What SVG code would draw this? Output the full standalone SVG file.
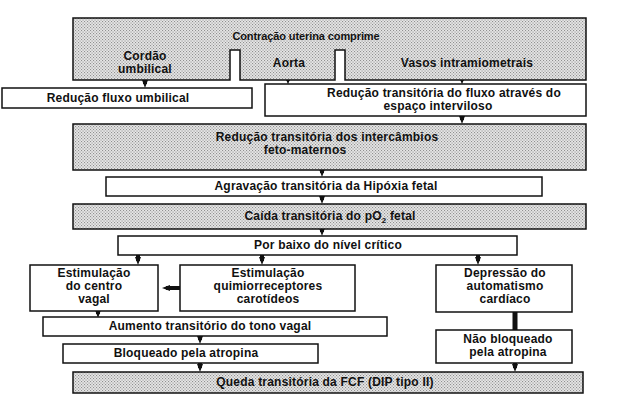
<svg xmlns="http://www.w3.org/2000/svg" width="640" height="401" viewBox="0 0 640 401">
<defs>
<pattern id="dots" width="3" height="3" patternUnits="userSpaceOnUse">
<rect width="3" height="3" fill="#e6e6e6"/>
<rect x="0" y="0" width="1.1" height="1.1" fill="#909090"/>
<rect x="1.5" y="1.5" width="1.1" height="1.1" fill="#909090"/>
</pattern>
<marker id="ah" markerWidth="8" markerHeight="6" refX="4" refY="3" orient="auto" markerUnits="userSpaceOnUse" viewBox="0 0 8 6">
<path d="M0,0 L8,3 L0,6 Z" fill="#111"/>
</marker>
</defs>
<style>
.box{fill:#fff;stroke:#111;stroke-width:1.5}
.gray{fill:url(#dots);stroke:#111;stroke-width:1.5}
text{font-family:"Liberation Sans",Arial,sans-serif;font-size:12px;font-weight:bold;fill:#111;text-anchor:middle;letter-spacing:0.2px}
.sm{font-size:11px;letter-spacing:-0.1px}
.arr{stroke:#111;stroke-width:4;fill:none;marker-end:url(#ah)}
.thick{stroke:#111;stroke-width:5;fill:none}
</style>
<rect width="640" height="401" fill="#fff"/>

<g id="connectors">
<line class="arr" x1="145" y1="80" x2="145" y2="84"/>
<line class="arr" x1="288" y1="80" x2="288" y2="80.5"/>
<line class="arr" x1="462" y1="80" x2="462" y2="80.5"/>
<line class="arr" x1="462" y1="116" x2="462" y2="120"/>
<line class="arr" x1="322" y1="170" x2="322" y2="173"/>
<line class="arr" x1="322" y1="196" x2="322" y2="200"/>
<line class="arr" x1="322" y1="229" x2="322" y2="232"/>
<line class="arr" x1="138" y1="255" x2="138" y2="261"/>
<line class="arr" x1="262" y1="255" x2="262" y2="261"/>
<line class="arr" x1="478" y1="255" x2="478" y2="261"/>
<line class="arr" x1="180" y1="288" x2="166" y2="288"/>
<line class="arr" x1="98" y1="311" x2="98" y2="314"/>
<line class="arr" x1="200" y1="336" x2="200" y2="340"/>
<line class="arr" x1="200" y1="363" x2="200" y2="368"/>
<line class="arr" x1="515" y1="363" x2="515" y2="368"/>
<line class="thick" x1="515" y1="312" x2="515" y2="330"/>
</g>

<g id="n-contracao">
<path class="gray" d="M73,18 H586 V80 H345 V50 H335 V80 H240 V50 H230 V80 H73 Z"/>
<text class="sm" x="306" y="40">Contração uterina comprime</text>
<text x="145" y="60">Cordão</text>
<text x="145" y="73">umbilical</text>
<text x="289" y="67">Aorta</text>
<text x="467" y="67">Vasos intramiometrais</text>
</g>

<g id="n-fluxo-umbilical">
<rect class="box" x="2" y="88" width="250" height="20"/>
<text x="118" y="102">Redução fluxo umbilical</text>
</g>

<g id="n-fluxo-interviloso">
<rect class="box" x="265" y="84" width="321" height="32"/>
<text x="444" y="97">Redução transitória do fluxo através do</text>
<text x="438" y="110">espaço interviloso</text>
</g>

<g id="n-intercambios">
<rect class="gray" x="73" y="124" width="513" height="46"/>
<text x="327" y="141">Redução transitória dos intercâmbios</text>
<text x="305" y="154">feto-maternos</text>
</g>

<g id="n-agravacao">
<rect class="box" x="106" y="177" width="436" height="19"/>
<text x="326" y="190">Agravação transitória da Hipóxia fetal</text>
</g>

<g id="n-caida">
<rect class="gray" x="73" y="204" width="513" height="25"/>
<text x="330" y="220">Caída transitória do pO<tspan font-size="8" dy="2.5">2</tspan><tspan dy="-2.5"> fetal</tspan></text>
</g>

<g id="n-porbaixo">
<rect class="box" x="118" y="236" width="399" height="19"/>
<text x="328" y="249">Por baixo do nível crítico</text>
</g>

<g id="n-centro-vagal">
<rect class="box" x="30" y="265" width="128" height="46"/>
<text x="94" y="277">Estimulação</text>
<text x="94" y="290">do centro</text>
<text x="94" y="303">vagal</text>
</g>

<g id="n-quimio">
<rect class="box" x="180" y="265" width="175" height="46"/>
<text x="268" y="277">Estimulação</text>
<text x="268" y="290">quimiorreceptores</text>
<text x="268" y="303">carotídeos</text>
</g>

<g id="n-depressao">
<rect class="box" x="436" y="265" width="136" height="47"/>
<text x="505" y="277">Depressão do</text>
<text x="505" y="290">automatismo</text>
<text x="505" y="303">cardíaco</text>
</g>

<g id="n-aumento">
<rect class="box" x="43" y="317" width="344" height="19"/>
<text x="210" y="330">Aumento transitório do tono vagal</text>
</g>

<g id="n-bloqueado">
<rect class="box" x="63" y="344" width="255" height="19"/>
<text x="186" y="357">Bloqueado pela atropina</text>
</g>

<g id="n-nao-bloqueado">
<rect class="box" x="436" y="330" width="136" height="33"/>
<text x="508" y="343">Não bloqueado</text>
<text x="508" y="356">pela atropina</text>
</g>

<g id="n-queda">
<rect class="gray" x="73" y="372" width="510" height="21"/>
<text x="325" y="386">Queda transitória da FCF (DIP tipo II)</text>
</g>
</svg>
